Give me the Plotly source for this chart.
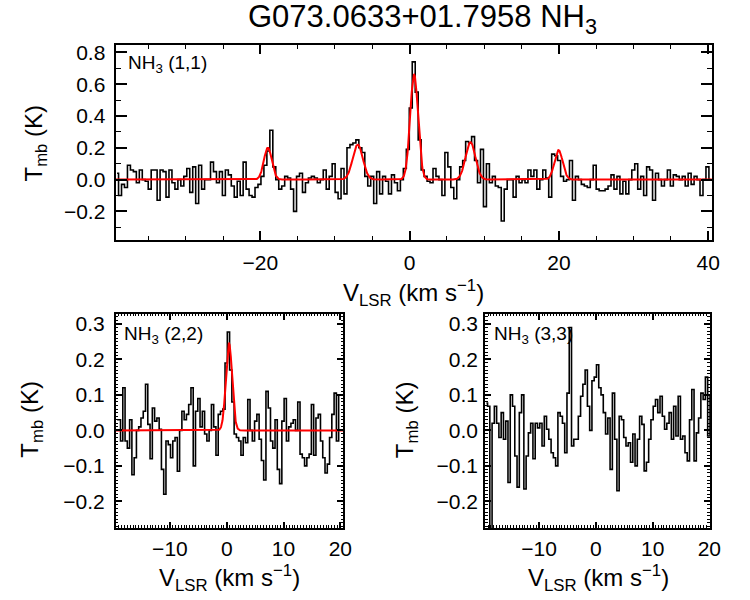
import numpy as np
import plotly.graph_objects as go

# ---------------- data ----------------
# NH3 (1,1) spectrum, channel values (K), channels of width V11_STEP starting at V11_START
V11_START = -39.4
V11_STEP = 0.3975
T11 = [
    0.04, -0.10, -0.03, -0.05, 0.09, 0.06, 0.05, -0.02, 0.06, 0.00,
    -0.01, -0.06, 0.06, 0.06, -0.13, 0.06, 0.05, -0.11, 0.06, -0.02,
    -0.06, 0.00, -0.04, 0.02, 0.07, -0.08, 0.08, -0.15, 0.09, -0.06,
    0.00, 0.00, 0.11, 0.05, -0.02, 0.05, -0.10, 0.06, 0.03, -0.04,
    -0.11, -0.01, -0.10, 0.11, -0.06, -0.10, -0.11, -0.05, -0.03, 0.02,
    0.09, 0.18, 0.31, 0.08, 0.00, -0.06, -0.04, 0.02, 0.01, -0.06,
    -0.20, 0.02, 0.04, -0.08, -0.02, 0.01, 0.02,
    0.01, -0.02, 0.00, 0.06, -0.06, 0.02, 0.10, -0.08, -0.12, 0.07,
    -0.09, 0.20, 0.22, 0.23, 0.25, 0.20, 0.17, 0.02, -0.04, 0.02,
    -0.15, 0.05, -0.09, 0.02, -0.01, -0.09, 0.03, -0.02, -0.07, 0.00,
    0.07, 0.19, 0.45, 0.74, 0.55, 0.25, 0.06, 0.02, -0.01, -0.02,
    0.07, 0.02, 0.00, -0.10, 0.17, 0.08, -0.05, -0.12, 0.00, 0.08,
    0.12, 0.24, 0.23, 0.27, 0.12, -0.02, 0.19, -0.17, 0.10, -0.02,
    0.02, -0.04, -0.05, -0.26, -0.06, 0.00,
    0.00, -0.11, 0.02, -0.02, 0.00, -0.02, 0.06, 0.02, 0.06, -0.06,
    0.00, 0.06, 0.01, -0.11, 0.16, 0.15, 0.12, 0.02, -0.01, 0.00,
    0.12, -0.13, 0.02, 0.00, -0.03, -0.04, -0.05, 0.00, 0.09, -0.06,
    -0.07, -0.07, -0.06, -0.04, 0.03, -0.06, 0.02, -0.09, -0.01, -0.09,
    0.00, 0.06, 0.10, -0.06, 0.02, -0.10, 0.08, 0.06, -0.13, 0.04,
    0.00, -0.04, 0.00, 0.06, -0.04, 0.03, 0.02, 0.00, 0.02, -0.04,
    0.04, -0.03, 0.02, 0.00, -0.10, 0.00, 0.08, 0.00,
]

# NH3 (2,2) and (3,3) spectra, channel values (K)
VB_START = -19.5
VB_STEP = 0.4
T22 = [
    0.03, 0.03, -0.03, 0.12, -0.03, -0.05, 0.03, -0.125, -0.077, 0.00,
    0.01, 0.035, 0.054, 0.13, 0.017, -0.08, 0.063, 0.026, 0.035, 0.003,
    -0.11, -0.18, -0.03, -0.04, -0.077, -0.03, -0.02, -0.115, 0.00, 0.054,
    0.03, 0.045, 0.073, 0.12, -0.10, 0.054, 0.09, 0.01, 0.054, -0.01,
    -0.03, 0.00, 0.073, 0.01, -0.07, 0.045, 0.054, 0.06, 0.19, 0.277,
    0.17, 0.08, -0.01, -0.02, -0.03, -0.07, -0.02, -0.035, 0.087, 0.00,
    -0.03, 0.026, 0.045, -0.025, -0.085, -0.14, 0.11, 0.063, -0.03, -0.05,
    0.03, -0.11, -0.15, 0.026, 0.09, -0.03, 0.01, 0.02, 0.03, 0.00,
    0.08, -0.067, -0.077, -0.10, -0.077, -0.067, 0.073, -0.07, 0.035, 0.045,
    -0.03, -0.077, -0.12, -0.095, -0.02, 0.045, 0.105, -0.03, 0.10, 0.10,
]
T33 = [
    0.077, 0.068, -0.32, 0.02, 0.068, 0.02, -0.02, 0.05, -0.025, 0.026,
    -0.147, 0.10, 0.068, -0.072, -0.16, 0.05, 0.10, -0.165, -0.072, -0.007,
    0.02, -0.08, 0.02, 0.007, 0.02, -0.044, 0.04, 0.003, -0.025, -0.063,
    -0.077, -0.10, 0.05, 0.04, 0.02, -0.063, 0.105, 0.29, -0.044, -0.025,
    -0.025, 0.04, 0.096, 0.13, 0.17, 0.068, 0.00, 0.14, 0.15, 0.185,
    0.12, 0.10, 0.05, -0.01, 0.035, -0.11, 0.105, -0.025, -0.17, 0.04,
    0.03, -0.02, -0.044, -0.035, -0.09, -0.01, -0.10, -0.025, 0.04, 0.017,
    -0.114, -0.09, -0.025, 0.03, 0.068, 0.087, 0.05, 0.096, 0.04, 0.003,
    0.02, 0.05, -0.025, 0.068, -0.016, 0.096, -0.025, -0.016, -0.063, -0.086,
    0.03, 0.115, -0.086, -0.007, 0.035, 0.105, 0.087, 0.15, -0.016, 0.096,
]

# Gaussian fit components
FIT11_CENTER = [-19.0, -6.95, 0.6, 8.15, 19.95]
FIT11_AMP = [0.20, 0.22, 0.66, 0.235, 0.185]
FIT11_FWHM = [1.25, 1.6, 1.25, 1.55, 1.3]
FIT22_CENTER = [0.4]
FIT22_AMP = [0.245]
FIT22_FWHM = [1.3]

TITLE = "G073.0633+01.7958 NH<sub>3</sub>"
LABELS = ["NH<sub>3</sub> (1,1)", "NH<sub>3</sub> (2,2)", "NH<sub>3</sub> (3,3)"]
YTITLE = "T<sub>mb</sub> (K)"
XTITLE = "V<sub>LSR</sub> (km s<sup>\u22121</sup>)"

# ---------------- derived ----------------
v11 = V11_START + V11_STEP * (np.arange(len(T11)) + 0.5)
vb = VB_START + VB_STEP * (np.arange(len(T22)) + 0.5)


def gauss_model(v, centers, amps, fwhms):
    out = np.zeros_like(v)
    for c, a, w in zip(centers, amps, fwhms):
        s = w / 2.3548
        out += a * np.exp(-0.5 * ((v - c) / s) ** 2)
    return out


vf11 = np.linspace(-39.6, 40.6, 2000)
vf22 = np.linspace(-19.6, 20.6, 1000)
fit11 = gauss_model(vf11, FIT11_CENTER, FIT11_AMP, FIT11_FWHM)
fit22 = gauss_model(vf22, FIT22_CENTER, FIT22_AMP, FIT22_FWHM)

W, H = 750, 600
FONT = "Liberation Sans, Arial, Helvetica, sans-serif"


def px(x):
    return x / W


def py(y):
    return 1 - y / H


fig = go.Figure()
black = dict(color="black", width=1.6, shape="hvh")
red = dict(color="#ff0000", width=2)

fig.add_trace(go.Scatter(x=v11, y=T11, mode="lines", line=black, xaxis="x", yaxis="y", hoverinfo="skip"))
fig.add_trace(go.Scatter(x=vf11, y=fit11, mode="lines", line=red, xaxis="x", yaxis="y", hoverinfo="skip"))
fig.add_trace(go.Scatter(x=vb, y=T22, mode="lines", line=black, xaxis="x2", yaxis="y2", hoverinfo="skip"))
fig.add_trace(go.Scatter(x=vf22, y=fit22, mode="lines", line=red, xaxis="x2", yaxis="y2", hoverinfo="skip"))
fig.add_trace(go.Scatter(x=vb, y=T33, mode="lines", line=black, xaxis="x3", yaxis="y3", hoverinfo="skip"))

tickfont = dict(family=FONT, size=21, color="black")


def xax(domain, rng, dtick, minor, anchor, tlen, mlen, standoff):
    return dict(domain=domain, range=rng, anchor=anchor, showgrid=False, zeroline=False,
                showline=True, linecolor="black", linewidth=2, mirror="allticks",
                ticks="inside", ticklen=tlen, tickwidth=1.5, tickcolor="black",
                tick0=0, dtick=dtick, tickfont=tickfont, ticklabelstandoff=standoff,
                minor=dict(dtick=minor, tick0=0, ticks="inside", ticklen=mlen, tickwidth=1.2,
                           tickcolor="black", showgrid=False))


def yax(domain, rng, dtick, minor, anchor, tlen, mlen, standoff):
    d = xax(domain, rng, dtick, minor, anchor, tlen, mlen, standoff)
    d["tickformat"] = ".1f"
    return d


top_x = [px(117.3), px(722.5)]
top_y = [py(237.3), py(41)]
bl_x = [px(117.7), px(348.3)]
br_x = [px(492.5), px(720.5)]
b_y = [py(527.5), py(311.7)]

fig.update_layout(
    width=W, height=H,
    margin=dict(l=0, r=0, t=0, b=0),
    paper_bgcolor="white", plot_bgcolor="white",
    showlegend=False,
    xaxis=xax(top_x, [V11_START, 40.5], 20, 5, "y", 9, 4, 3),
    yaxis=yax(top_y, [-0.378, 0.848], 0.2, 0.1, "x", 11, 5, 4),
    xaxis2=xax(bl_x, [-19.5, 20.5], 10, 0.5, "y2", 6, 2.5, 1),
    yaxis2=yax(b_y, [-0.275, 0.329], 0.1, 0.01, "x2", 6, 2.5, 5),
    xaxis3=xax(br_x, [-19.5, 20.1], 10, 0.5, "y3", 6, 2.5, 1),
    yaxis3=yax(b_y, [-0.275, 0.329], 0.1, 0.01, "x3", 6, 2.5, 1),
)

ann = []


def add_text(text, x, y, size, angle=0, xanchor="center", yanchor="middle"):
    ann.append(dict(text=text, x=px(x), y=py(y), xref="paper", yref="paper",
                    showarrow=False, textangle=angle, xanchor=xanchor, yanchor=yanchor,
                    font=dict(family=FONT, size=size, color="black")))


add_text(TITLE, 429, 15, 31)
add_text(LABELS[0], 128, 60, 19, xanchor="left")
add_text(LABELS[1], 124, 333, 19, xanchor="left")
add_text(LABELS[2], 499, 333, 19, xanchor="left")
add_text(YTITLE, 36, 140, 24, angle=-90)
add_text(YTITLE, 32, 418, 24, angle=-90)
add_text(YTITLE, 412, 418, 24, angle=-90)
add_text(XTITLE, 420, 291, 24)
add_text(XTITLE, 233, 578, 24)
add_text(XTITLE, 607, 578, 24)
fig.update_layout(annotations=ann)

fig.write_html("out.html", config={"displayModeBar": False},
               post_script="document.body.style.margin='0px';document.body.style.padding='0px';")
